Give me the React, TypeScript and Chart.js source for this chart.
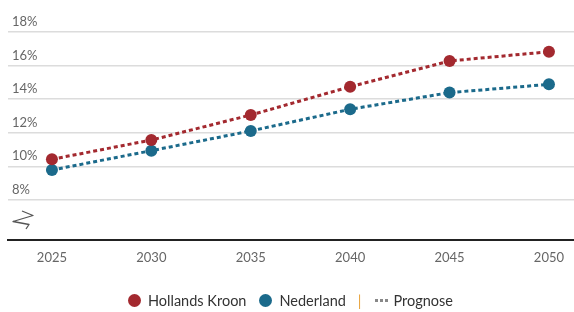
import React, { useEffect, useRef } from "react";
import { Chart, registerables } from "chart.js";

Chart.register(...registerables);

const years = [2025, 2030, 2035, 2040, 2045, 2050];
const hollandsKroon = [10.42, 11.56, 13.05, 14.73, 16.26, 16.81];
const nederland = [9.78, 10.93, 12.1, 13.39, 14.38, 14.87];
const yTicks = [8, 10, 12, 14, 16, 18];

const RED = "#a3292f";
const TEAL = "#1b6a8b";
const FONT = "Lato, 'Noto Sans', sans-serif";

const breakPlugin = {
  id: "axisBreak",
  afterDraw(chart: any) {
    const ctx = chart.ctx;
    const x0 = chart.chartArea.left;
    const b = chart.chartArea.bottom;
    ctx.save();
    ctx.strokeStyle = "#555";
    ctx.lineWidth = 1.3;
    ctx.lineJoin = "round";
    ctx.beginPath();
    ctx.moveTo(x0 + 14, b - 29);
    ctx.lineTo(x0 + 25, b - 24.5);
    ctx.lineTo(x0 + 5, b - 18.5);
    ctx.lineTo(x0 + 21, b - 15.5);
    ctx.lineTo(x0 + 18, b - 11);
    ctx.stroke();
    ctx.restore();
  },
};

export default function App() {
  const ref = useRef<HTMLCanvasElement>(null);
  useEffect(() => {
    const ds = (label: string, data: number[], color: string) => ({
      label,
      data: years.map((y, i) => ({ x: y, y: data[i] })),
      borderColor: color,
      backgroundColor: color,
      borderWidth: 3,
      borderDash: [4, 3],
      pointRadius: 6,
      pointHoverRadius: 6,
      pointBorderWidth: 0,
      pointBackgroundColor: color,
      tension: 0,
    });
    const chart = new Chart(ref.current!, {
      type: "line",
      data: {
        datasets: [ds("Hollands Kroon", hollandsKroon, RED), ds("Nederland", nederland, TEAL)],
      },
      plugins: [breakPlugin],
      options: {
        animation: false,
        responsive: false,
        maintainAspectRatio: false,
        layout: { autoPadding: false, padding: { top: 31.7, left: 0, right: 0, bottom: 36.4 } },
        plugins: { legend: { display: false }, tooltip: { enabled: false } },
        scales: {
          x: {
            type: "linear",
            min: 2022.79,
            max: 2051.26,
            afterBuildTicks: (s: any) => {
              s.ticks = years.map((v) => ({ value: v }));
            },
            afterFit: (s: any) => {
              s.paddingLeft = 0;
              s.paddingRight = 0;
            },
            grid: { display: false, drawTicks: false },
            border: { display: true, color: "#222", width: 2 },
            ticks: {
              padding: 10,
              color: "#666",
              font: { family: FONT, size: 13 },
              callback: (v: any) => String(v),
            },
          },
          y: {
            min: 5.62,
            max: 18,
            afterBuildTicks: (s: any) => {
              s.ticks = yTicks.map((v) => ({ value: v }));
            },
            grid: { color: "#dcdcdc", lineWidth: 1.5, drawTicks: false },
            border: { display: false },
            ticks: {
              mirror: true,
              padding: 4,
              labelOffset: -10,
              color: "#666",
              font: { family: FONT, size: 13 },
              callback: (v: any) => v + "%",
            },
          },
        },
      },
    });
    return () => chart.destroy();
  }, []);

  const item: React.CSSProperties = { display: "flex", alignItems: "center" };
  const dot = (c: string): React.CSSProperties => ({
    width: 13,
    height: 13,
    borderRadius: "50%",
    background: c,
    marginRight: 7,
  });

  return (
    <div style={{ position: "fixed", left: 0, top: 0, width: 574, height: 312, background: "#fff" }}>
      <canvas ref={ref} width={574} height={312} style={{ display: "block", width: 574, height: 312 }} />
      <div
        style={{
          position: "absolute",
          left: 128,
          top: 291,
          height: 18,
          display: "flex",
          alignItems: "center",
          fontFamily: FONT,
          fontSize: 14.5,
          color: "#333",
          whiteSpace: "nowrap",
        }}
      >
        <div style={item}>
          <span style={dot(RED)} />
          <span>Hollands Kroon</span>
        </div>
        <div style={{ ...item, marginLeft: 13 }}>
          <span style={dot(TEAL)} />
          <span>Nederland</span>
        </div>
        <span style={{ color: "#e8a33d", marginLeft: 12 }}>|</span>
        <div style={{ ...item, marginLeft: 13 }}>
          <span
            style={{
              display: "inline-block",
              width: 13,
              height: 3,
              marginRight: 6,
              background: "repeating-linear-gradient(to right, #888 0 3px, transparent 3px 5px)",
            }}
          />
          <span>Prognose</span>
        </div>
      </div>
    </div>
  );
}
